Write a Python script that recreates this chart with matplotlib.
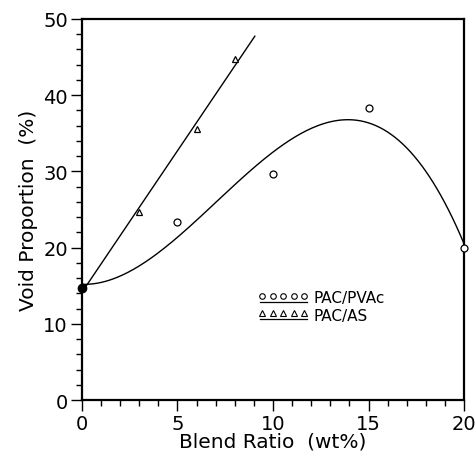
import numpy as np
import matplotlib
matplotlib.use('Agg')
import matplotlib.pyplot as plt
from matplotlib.lines import Line2D
from matplotlib.legend_handler import HandlerBase
from matplotlib.ticker import MultipleLocator

plt.rcParams['font.family'] = ['DejaVu Sans']

# =============================================================================
# Data
# =============================================================================
pvac_x = [0, 5, 10, 15, 20]
pvac_y = [14.7, 23.3, 29.6, 38.3, 20.0]

as_x = [0, 3, 6, 8]
as_y = [14.7, 24.7, 35.5, 44.7]

# fitted curves: cubic for PAC/PVAc, straight line for PAC/AS
pvac_fit = np.polyfit(pvac_x, pvac_y, 3)
as_fit = np.polyfit(as_x, as_y, 1)
xc = np.linspace(0, 20, 200)
xl = np.linspace(0, 9.05, 2)


# =============================================================================
# Legend handler: row of markers with a line underneath
# =============================================================================
class UnderlineHandler(HandlerBase):
    def create_artists(self, legend, orig_handle, xdescent, ydescent,
                       width, height, fontsize, trans):
        xs = np.linspace(-xdescent + 2, width - xdescent - 2, 5)
        ym = (height - ydescent) / 2 + 1
        marks = Line2D(xs, np.full(5, ym), linestyle='none',
                       marker=orig_handle.get_marker(), markersize=4,
                       markerfacecolor='white', markeredgecolor='black',
                       markeredgewidth=0.8, transform=trans)
        under = Line2D([xs[0] - 2, xs[-1] + 2], [ym - 4.5, ym - 4.5],
                       color='black', linewidth=0.9, transform=trans)
        return [marks, under]


fig = plt.figure(figsize=(4.76, 4.6), dpi=100)
ax = fig.add_axes([0.172, 0.128, 0.803, 0.829])

ax.plot(xc, np.polyval(pvac_fit, xc), '-', color='black', linewidth=1.0)
ax.plot(xl, np.polyval(as_fit, xl), '-', color='black', linewidth=1.0)

h1, = ax.plot(pvac_x, pvac_y, 'o', markersize=5, markerfacecolor='white',
              markeredgecolor='black', markeredgewidth=0.9, clip_on=False, zorder=3)
h2, = ax.plot(as_x, as_y, '^', markersize=4.5, markerfacecolor='white',
              markeredgecolor='black', markeredgewidth=0.9, clip_on=False, zorder=3)
ax.plot(pvac_x[0], pvac_y[0], 'o', markersize=6, color='black', clip_on=False, zorder=4)

ax.set_xlim(0, 20)
ax.set_ylim(0, 50)
ax.xaxis.set_major_locator(MultipleLocator(5))
ax.xaxis.set_minor_locator(MultipleLocator(1))
ax.yaxis.set_major_locator(MultipleLocator(10))
ax.yaxis.set_minor_locator(MultipleLocator(2))
ax.tick_params(which='major', direction='out', length=8, width=1.0, labelsize=14, pad=2)
ax.tick_params(which='minor', direction='out', length=4.5, width=1.0)
for s in ax.spines.values():
    s.set_linewidth(1.6)

ax.set_xlabel('Blend Ratio  (wt%)', fontsize=14.5, labelpad=-1)
ax.set_ylabel('Void Proportion  (%)', fontsize=14.5, labelpad=4)

ax.legend([h1, h2], ['PAC/PVAc', 'PAC/AS'], handler_map={h1: UnderlineHandler(), h2: UnderlineHandler()},
          loc='upper left', bbox_to_anchor=(0.445, 0.308), frameon=False, fontsize=11,
          handlelength=3.1, handletextpad=0.45, labelspacing=0.15, borderpad=0)

fig.savefig('out.png', dpi=100)
